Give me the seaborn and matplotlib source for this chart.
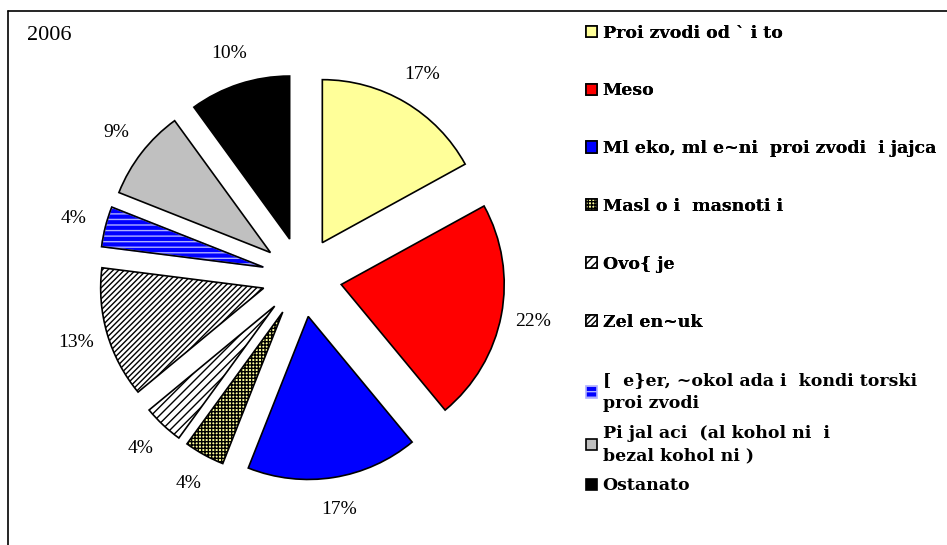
import matplotlib
matplotlib.use("Agg")
import matplotlib.pyplot as plt
import seaborn as sns
from matplotlib.patches import Wedge
from matplotlib.lines import Line2D

# ---------------- DATA ----------------
categories = [
    "Proi zvodi od ` i to",
    "Meso",
    "Ml eko, ml e~ni  proi zvodi  i jajca",
    "Masl o i  masnoti i",
    "Ovo{ je",
    "Zel en~uk",
    "[  e}er, ~okol ada i  kondi torski\nproi zvodi",
    "Pi jal aci  (al kohol ni  i\nbezal kohol ni )",
    "Ostanato",
]
shares = [17, 22, 17, 4, 4, 13, 4, 9, 10]
colors = ["#FFFF99", "#FF0000", "#0000FF", "#FFFF99", "#FFFFFF",
          "#FFFFFF", "#0000FF", "#C0C0C0", "#000000"]
hatches = [None, None, None, "+++++", "////", "//////", "---", None, None]
year = "2006"

# ---------------- STYLE ----------------
sns.set_theme(style="white")
plt.rcParams["font.family"] = ["Liberation Serif", "DejaVu Serif"]
plt.rcParams["text.color"] = "black"
plt.rcParams["hatch.linewidth"] = 1.0

fig = plt.figure(figsize=(9.47, 5.45), dpi=100)
ax = fig.add_axes([0.0435, 0.0132, 0.5508, 0.957])

wedges, names, pct = ax.pie(
    shares,
    colors=colors,
    explode=[0.245] * len(shares),
    startangle=90,
    counterclock=False,
    autopct="%.0f%%",
    pctdistance=1.2,
    wedgeprops=dict(edgecolor="black", linewidth=1.2),
    textprops=dict(fontsize=14, color="black"),
)

for w, h in zip(wedges, hatches):
    if h:
        w.set_hatch(h)

# wavy blue slice: light hatch, then a black outline on top
choc = wedges[6]
choc.set_edgecolor("#AFAFFF")
ax.add_patch(Wedge(choc.center, choc.r, choc.theta1, choc.theta2,
                   fill=False, edgecolor="black", linewidth=1.2))

ax.set_xlim(-1.6, 1.6)
ax.set_ylim(-1.6, 1.6)
ax.axis("off")

# ---------------- LEGEND ----------------
legend_font = dict(family="DejaVu Serif", size=12.5, weight="bold")
leg1 = fig.legend(wedges[:6], categories[:6], loc="upper left",
                  bbox_to_anchor=(0.619, 0.955), frameon=False,
                  borderpad=0, borderaxespad=0, labelspacing=2.35,
                  handlelength=0.6, handleheight=0.6, handletextpad=0.35,
                  prop=legend_font)
fig.add_artist(leg1)
leg2 = fig.legend(wedges[6:], categories[6:], loc="upper left",
                  bbox_to_anchor=(0.619, 0.318), frameon=False,
                  borderpad=0, borderaxespad=0, labelspacing=0.75,
                  handlelength=0.6, handleheight=0.6, handletextpad=0.35,
                  prop=legend_font)
for t in leg2.get_texts():
    t.set_linespacing(1.45)

fig.text(0.0285, 0.935, year, fontsize=16, ha="left", va="center")

# chart frame (cut at right and bottom)
fig.add_artist(Line2D([8 / 947, 1.0], [1 - 11 / 545] * 2,
                      transform=fig.transFigure, color="black", linewidth=1.2))
fig.add_artist(Line2D([8 / 947] * 2, [0.0, 1 - 11 / 545],
                      transform=fig.transFigure, color="black", linewidth=1.2))

fig.savefig("out.png", dpi=100)
